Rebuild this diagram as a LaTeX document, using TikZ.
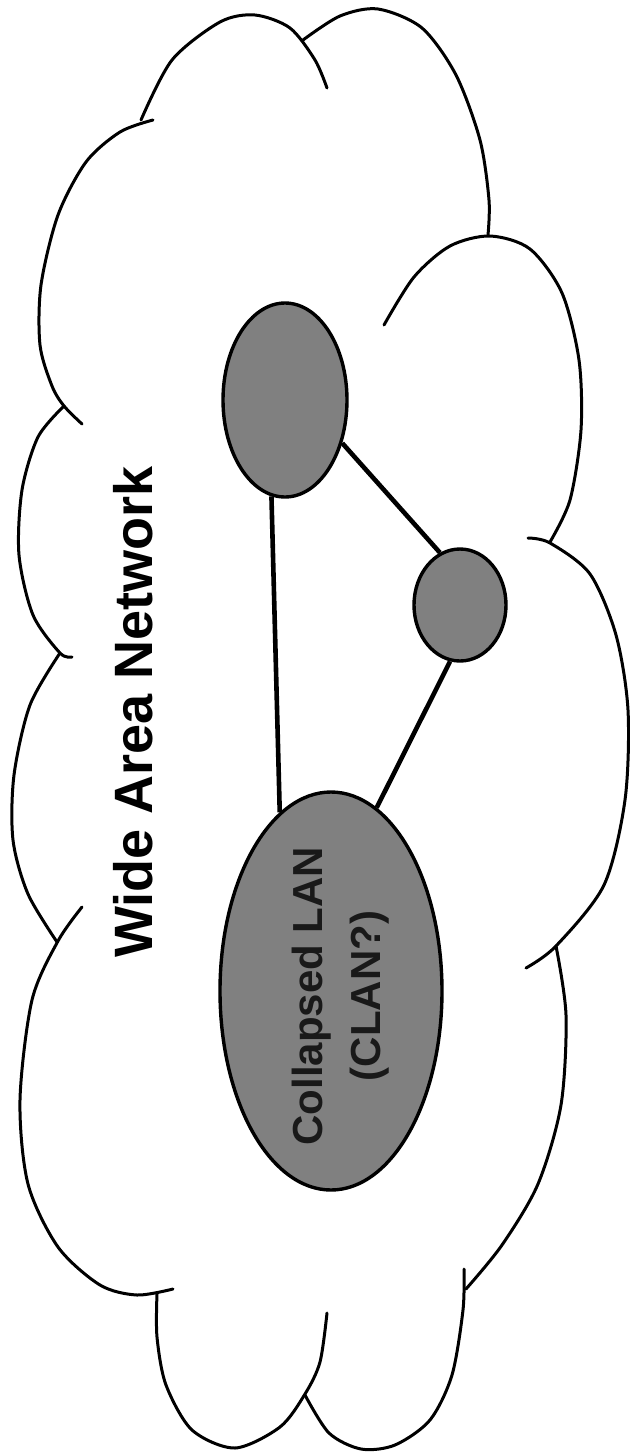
\documentclass[tikz,border=0pt]{standalone}
\usepackage{fontspec}
\setmainfont{Liberation Sans}
\usetikzlibrary{shapes.geometric}
\begin{document}
\begin{tikzpicture}[x=0.5pt,y=-0.5pt,
  lobe/.style={line width=1.5pt, line cap=round},
  netnode/.style={ellipse, draw=black, line width=1.7pt, fill=black!50, inner sep=0pt},
  link/.style={line width=2.3pt},
  title/.style={font=\bfseries\fontsize{27}{32}\selectfont, rotate=90},
  inner/.style={font=\bfseries\fontsize{21}{29}\selectfont, rotate=90, align=center, text=black!90}]
\useasboundingbox (0,0) rectangle (629,1452);
% cloud lobes
\draw[lobe] plot[smooth] coordinates {(141,120) (172,60) (220,22) (255,15) (290,28) (315,60) (327,88)};
\draw[lobe] plot[smooth] coordinates {(303,40) (340,16) (378,9) (422,28) (456,75) (480,140) (489,200) (488,235)};
\draw[lobe] plot[smooth] coordinates {(384,325) (414,277) (450,246) (490,236) (530,249) (562,293) (579,360) (581,430) (570,500) (550,542)};
\draw[lobe] plot[smooth] coordinates {(528,538) (550,543) (590,574) (616,635) (628,710) (625,800) (604,885) (556,946) (526,968)};
\draw[lobe] plot[smooth] coordinates {(556,946) (566,1015) (561,1105) (538,1184) (502,1245) (466,1289)};
\draw[lobe] plot[smooth] coordinates {(464,1269) (463,1310) (452,1375) (430,1420) (395,1445) (361,1449) (329,1433) (305,1395)};
\draw[lobe] plot[smooth] coordinates {(327,1313) (320,1362) (305,1394) (280,1427) (235,1448) (192,1430) (166,1385) (157,1337) (157,1294)};
\draw[lobe] plot[smooth] coordinates {(82,907) (58,941) (32,1000) (20,1100) (28,1184) (58,1247) (100,1285) (137,1295) (173,1289)};
\draw[lobe] plot[smooth] coordinates {(60,653) (30,705) (14,775) (13,840) (28,894) (57,942)};
\draw[lobe] plot[smooth] coordinates {(64,406) (38,437) (22,490) (19,555) (33,615) (60,653) (72,657)};
\draw[lobe] plot[smooth] coordinates {(153,120) (120,132) (86,162) (58,215) (41,285) (40,345) (52,386) (64,406) (82,424)};
% title
\node[title] (wan) at (133,712) {Wide Area Network};
% network nodes
\node[netnode, minimum width=62pt, minimum height=97pt] (up) at (285,400) {};
\node[netnode, minimum width=46pt, minimum height=56pt] (small) at (460,605) {};
\node[netnode, minimum width=111pt, minimum height=199pt] (clan) at (331,991) {};
\node[inner] (clantext) at (341,996) {Collapsed LAN\\(CLAN?)};
% links
\draw[link] (up.-98) -- (clan.106);
\draw[link] (up.-37) -- (small.111);
\draw[link] (small.-100) -- (clan.76);
\end{tikzpicture}
\end{document}
